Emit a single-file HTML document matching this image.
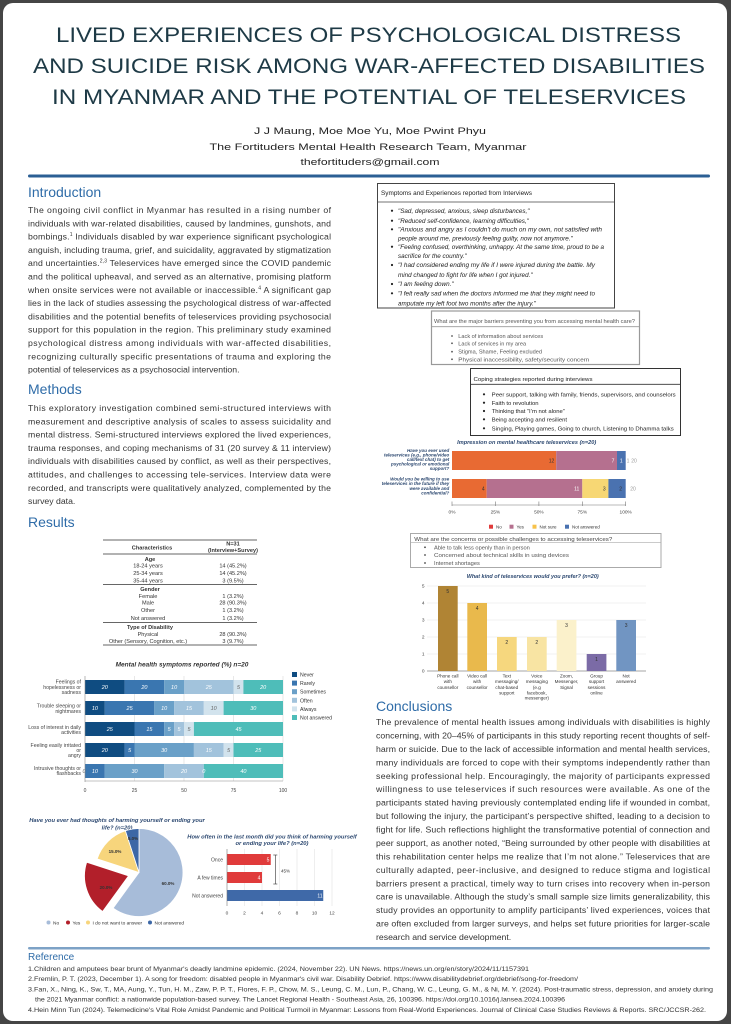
<!DOCTYPE html>
<html><head><meta charset="utf-8"><style>
html,body{margin:0;padding:0;background:#454545;}
svg{display:block;font-family:"Liberation Sans",Arial,sans-serif;}
</style></head><body>
<svg width="731" height="1024" viewBox="0 0 731 1024" xmlns="http://www.w3.org/2000/svg">
<rect width="731" height="1024" fill="#454545"/>
<rect x="3" y="3" width="724" height="1018" rx="10" fill="#fff"/>

<!-- Title -->
<g fill="#1e3a46" font-size="21" text-anchor="middle">
<text x="368.5" y="42" textLength="625" lengthAdjust="spacingAndGlyphs">LIVED EXPERIENCES OF PSYCHOLOGICAL DISTRESS</text>
<text x="369" y="73" textLength="672" lengthAdjust="spacingAndGlyphs">AND SUICIDE RISK AMONG WAR-AFFECTED DISABILITIES</text>
<text x="369" y="104" textLength="634" lengthAdjust="spacingAndGlyphs">IN MYANMAR AND THE POTENTIAL OF TELESERVICES</text>
</g>
<g fill="#222" font-size="9.5" text-anchor="middle">
<text x="370" y="134" textLength="232" lengthAdjust="spacingAndGlyphs">J J Maung, Moe Moe Yu, Moe Pwint Phyu</text>
<text x="368" y="150" textLength="317" lengthAdjust="spacingAndGlyphs">The Fortituders Mental Health Research Team, Myanmar</text>
<text x="370" y="165" textLength="139" lengthAdjust="spacingAndGlyphs">thefortituders@gmail.com</text>
</g>
<rect x="28" y="174.5" width="682" height="3" rx="1.5" fill="#2b5f94"/>

<!-- Section headings -->
<g fill="#2f6ca8" font-size="14">
<text x="28" y="197">Introduction</text>
<text x="28" y="394">Methods</text>
<text x="28" y="527">Results</text>
<text x="376" y="711">Conclusions</text>
</g>

<!-- Intro text -->
<g fill="#333" font-size="8.7">
<text x="28" y="213" textLength="303" lengthAdjust="spacing">The ongoing civil conflict in Myanmar has resulted in a rising number of</text>
<text x="28" y="226.3" textLength="303" lengthAdjust="spacing">individuals with war-related disabilities, caused by landmines, gunshots, and</text>
<text x="28" y="239.6" textLength="303" lengthAdjust="spacing">bombings.<tspan font-size="5" dy="-3.5">1</tspan><tspan dy="3.5"> Individuals disabled by war experience significant psychological</tspan></text>
<text x="28" y="252.9" textLength="303" lengthAdjust="spacing">anguish, including trauma, grief, and suicidality, aggravated by stigmatization</text>
<text x="28" y="266.2" textLength="303" lengthAdjust="spacing">and uncertainties.<tspan font-size="5" dy="-3.5">2,3</tspan><tspan dy="3.5"> Teleservices have emerged since the COVID pandemic</tspan></text>
<text x="28" y="279.5" textLength="303" lengthAdjust="spacing">and the political upheaval, and served as an alternative, promising platform</text>
<text x="28" y="292.8" textLength="303" lengthAdjust="spacing">when onsite services were not available or inaccessible.<tspan font-size="5" dy="-3.5">4</tspan><tspan dy="3.5"> A significant gap</tspan></text>
<text x="28" y="306.1" textLength="303" lengthAdjust="spacing">lies in the lack of studies assessing the psychological distress of war-affected</text>
<text x="28" y="319.4" textLength="303" lengthAdjust="spacing">disabilities and the potential benefits of teleservices providing psychosocial</text>
<text x="28" y="332.7" textLength="303" lengthAdjust="spacing">support for this population in the region. This preliminary study examined</text>
<text x="28" y="346" textLength="303" lengthAdjust="spacing">psychological distress among individuals with war-affected disabilities,</text>
<text x="28" y="359.3" textLength="303" lengthAdjust="spacing">recognizing culturally specific presentations of trauma and exploring the</text>
<text x="28" y="372.6">potential of teleservices as a psychosocial intervention.</text>
</g>

<!-- Methods text -->
<g fill="#333" font-size="8.7">
<text x="28" y="411" textLength="303" lengthAdjust="spacing">This exploratory investigation combined semi-structured interviews with</text>
<text x="28" y="424.3" textLength="303" lengthAdjust="spacing">measurement and descriptive analysis of scales to assess suicidality and</text>
<text x="28" y="437.6" textLength="303" lengthAdjust="spacing">mental distress. Semi-structured interviews explored the lived experiences,</text>
<text x="28" y="450.9" textLength="303" lengthAdjust="spacing">trauma responses, and coping mechanisms of 31 (20 survey &amp; 11 interview)</text>
<text x="28" y="464.2" textLength="303" lengthAdjust="spacing">individuals with disabilities caused by conflict, as well as their perspectives,</text>
<text x="28" y="477.5" textLength="303" lengthAdjust="spacing">attitudes, and challenges to accessing tele-services. Interview data were</text>
<text x="28" y="490.8" textLength="303" lengthAdjust="spacing">recorded, and transcripts were qualitatively analyzed, complemented by the</text>
<text x="28" y="504.1">survey data.</text>
</g>

<!-- Conclusions text -->
<g fill="#333" font-size="8.7">
<text x="376" y="725" textLength="334" lengthAdjust="spacing">The prevalence of mental health issues among individuals with disabilities is highly</text>
<text x="376" y="738.4" textLength="334" lengthAdjust="spacing">concerning, with 20–45% of participants in this study reporting recent thoughts of self-</text>
<text x="376" y="751.9" textLength="334" lengthAdjust="spacing">harm or suicide. Due to the lack of accessible information and mental health services,</text>
<text x="376" y="765.3" textLength="334" lengthAdjust="spacing">many individuals are forced to cope with their symptoms independently rather than</text>
<text x="376" y="778.8" textLength="334" lengthAdjust="spacing">seeking professional help. Encouragingly, the majority of participants expressed</text>
<text x="376" y="792.2" textLength="334" lengthAdjust="spacing">willingness to use teleservices if such resources were available. As one of the</text>
<text x="376" y="805.6" textLength="334" lengthAdjust="spacing">participants stated having previously contemplated ending life if wounded in combat,</text>
<text x="376" y="819.1" textLength="334" lengthAdjust="spacing">but following the injury, the participant’s perspective shifted, leading to a decision to</text>
<text x="376" y="832.5" textLength="334" lengthAdjust="spacing">fight for life. Such reflections highlight the transformative potential of connection and</text>
<text x="376" y="846" textLength="334" lengthAdjust="spacing">peer support, as another noted, “Being surrounded by other people with disabilities at</text>
<text x="376" y="859.4" textLength="334" lengthAdjust="spacing">this rehabilitation center helps me realize that I’m not alone.” Teleservices that are</text>
<text x="376" y="872.8" textLength="334" lengthAdjust="spacing">culturally adapted, peer-inclusive, and designed to reduce stigma and logistical</text>
<text x="376" y="886.3" textLength="334" lengthAdjust="spacing">barriers present a practical, timely way to turn crises into recovery when in-person</text>
<text x="376" y="899.7" textLength="334" lengthAdjust="spacing">care is unavailable. Although the study’s small sample size limits generalizability, this</text>
<text x="376" y="913.2" textLength="334" lengthAdjust="spacing">study provides an opportunity to amplify participants’ lived experiences, voices that</text>
<text x="376" y="926.6" textLength="334" lengthAdjust="spacing">are often excluded from larger surveys, and helps set future priorities for larger-scale</text>
<text x="376" y="940">research and service development.</text>
</g>

<!-- Demographics table -->
<g stroke="#333" stroke-width="0.7">
<line x1="103" y1="540" x2="257" y2="540"/>
<line x1="103" y1="554" x2="257" y2="554"/>
<line x1="103" y1="584.5" x2="257" y2="584.5"/>
<line x1="103" y1="622.5" x2="257" y2="622.5"/>
<line x1="103" y1="645" x2="257" y2="645"/>
</g>
<g font-size="5.6" fill="#333" text-anchor="middle">
<text x="152" y="549.5" font-weight="bold">Characteristics</text>
<text x="233" y="545.5" font-weight="bold">N=31</text>
<text x="233" y="552" font-weight="bold">(Interview+Survey)</text>
<text x="150" y="561" font-weight="bold">Age</text>
<text x="148" y="567.5">18-24 years</text><text x="233" y="567.5">14 (45.2%)</text>
<text x="148" y="575">25-34 years</text><text x="233" y="575">14 (45.2%)</text>
<text x="148" y="582.5">35-44 years</text><text x="233" y="582.5">3 (9.5%)</text>
<text x="150" y="591" font-weight="bold">Gender</text>
<text x="148" y="598">Female</text><text x="233" y="598">1 (3.2%)</text>
<text x="148" y="604.5">Male</text><text x="233" y="604.5">28 (90.3%)</text>
<text x="148" y="612">Other</text><text x="233" y="612">1 (3.2%)</text>
<text x="148" y="620">Not answered</text><text x="233" y="620">1 (3.2%)</text>
<text x="150" y="629" font-weight="bold">Type of Disability</text>
<text x="148" y="636">Physical</text><text x="233" y="636">28 (90.3%)</text>
<text x="148" y="643">Other (Sensory, Cognition, etc.)</text><text x="233" y="643">3 (9.7%)</text>
</g>

<!-- Mental health symptoms chart -->
<text x="182" y="666.5" font-size="6.5" font-weight="bold" font-style="italic" fill="#333" text-anchor="middle">Mental health symptoms reported (%) n=20</text>
<g stroke="#d8d8d8" stroke-width="0.6">
<line x1="134.5" y1="676" x2="134.5" y2="781"/>
<line x1="184" y1="676" x2="184" y2="781"/>
<line x1="233.5" y1="676" x2="233.5" y2="781"/>
<line x1="283" y1="676" x2="283" y2="781"/>
</g>
<g>
<rect x="85" y="680" width="39.6" height="14" fill="#0f4c81"/>
<rect x="124.6" y="680" width="39.6" height="14" fill="#3a76b0"/>
<rect x="164.2" y="680" width="19.8" height="14" fill="#6aa0c8"/>
<rect x="184" y="680" width="49.5" height="14" fill="#a2c3dc"/>
<rect x="233.5" y="680" width="9.9" height="14" fill="#d2e3ed"/>
<rect x="243.4" y="680" width="39.6" height="14" fill="#4ebdb9"/>
<rect x="85" y="701" width="19.8" height="14" fill="#0f4c81"/>
<rect x="104.8" y="701" width="49.5" height="14" fill="#3a76b0"/>
<rect x="154.3" y="701" width="19.8" height="14" fill="#6aa0c8"/>
<rect x="174.1" y="701" width="29.7" height="14" fill="#a2c3dc"/>
<rect x="203.8" y="701" width="19.8" height="14" fill="#d2e3ed"/>
<rect x="223.6" y="701" width="59.4" height="14" fill="#4ebdb9"/>
<rect x="85" y="722" width="49.5" height="14" fill="#0f4c81"/>
<rect x="134.5" y="722" width="29.7" height="14" fill="#3a76b0"/>
<rect x="164.2" y="722" width="9.9" height="14" fill="#6aa0c8"/>
<rect x="174.1" y="722" width="9.9" height="14" fill="#a2c3dc"/>
<rect x="184" y="722" width="9.9" height="14" fill="#d2e3ed"/>
<rect x="193.9" y="722" width="89.1" height="14" fill="#4ebdb9"/>
<rect x="85" y="743" width="39.6" height="14" fill="#0f4c81"/>
<rect x="124.6" y="743" width="9.9" height="14" fill="#3a76b0"/>
<rect x="134.5" y="743" width="59.4" height="14" fill="#6aa0c8"/>
<rect x="193.9" y="743" width="29.7" height="14" fill="#a2c3dc"/>
<rect x="223.6" y="743" width="9.9" height="14" fill="#d2e3ed"/>
<rect x="233.5" y="743" width="49.5" height="14" fill="#4ebdb9"/>
<rect x="85" y="764" width="19.8" height="14" fill="#3a76b0"/>
<rect x="104.8" y="764" width="59.4" height="14" fill="#6aa0c8"/>
<rect x="164.2" y="764" width="39.6" height="14" fill="#a2c3dc"/>
<rect x="203.8" y="764" width="79.2" height="14" fill="#4ebdb9"/>
</g>
<g font-size="5.5" font-style="italic" fill="#fff" text-anchor="middle">
<text x="104.8" y="689">20</text><text x="144.4" y="689">20</text><text x="174.1" y="689">10</text><text x="208.8" y="689">25</text><text x="238.5" y="689" fill="#666">5</text><text x="263.2" y="689">20</text>
<text x="94.9" y="710">10</text><text x="129.6" y="710">25</text><text x="164.2" y="710">10</text><text x="189" y="710">15</text><text x="213.7" y="710" fill="#666">10</text><text x="253.3" y="710">30</text>
<text x="109.8" y="731">25</text><text x="149.4" y="731">15</text><text x="169.2" y="731">5</text><text x="179" y="731">5</text><text x="189" y="731" fill="#666">5</text><text x="238.5" y="731">45</text>
<text x="104.8" y="752">20</text><text x="129.6" y="752">5</text><text x="164.2" y="752">30</text><text x="208.8" y="752">15</text><text x="228.6" y="752" fill="#666">5</text><text x="258.3" y="752">25</text>
<text x="84" y="773" fill="#666">0</text><text x="94.9" y="773">10</text><text x="134.5" y="773">30</text><text x="184" y="773">20</text><text x="203.8" y="773">0</text><text x="243.4" y="773">40</text>
</g>
<g font-size="5.2" fill="#444" text-anchor="end">
<text x="81" y="683.5">Feelings of</text><text x="81" y="689">hopelessness or</text><text x="81" y="694">sadness</text>
<text x="81" y="707.5">Trouble sleeping or</text><text x="81" y="712.8">nightmares</text>
<text x="81" y="729">Loss of interest in daily</text><text x="81" y="734">activities</text>
<text x="81" y="746.8">Feeling easily irritated</text><text x="81" y="752">or</text><text x="81" y="757">angry</text>
<text x="81" y="770">Intrusive thoughts or</text><text x="81" y="775">flashbacks</text>
</g>
<line x1="85" y1="676" x2="85" y2="782" stroke="#888" stroke-width="0.6"/>
<line x1="85" y1="781" x2="283" y2="781" stroke="#888" stroke-width="0.6"/>
<g font-size="5" fill="#444" text-anchor="middle">
<text x="85" y="792">0</text><text x="134.5" y="792">25</text><text x="184" y="792">50</text><text x="233.5" y="792">75</text><text x="283" y="792">100</text>
</g>
<g font-size="5.2" fill="#333">
<rect x="292" y="672" width="5" height="5" fill="#0f4c81"/><text x="300" y="676.5">Never</text>
<rect x="292" y="680.6" width="5" height="5" fill="#3a76b0"/><text x="300" y="685.1">Rarely</text>
<rect x="292" y="689.2" width="5" height="5" fill="#6aa0c8"/><text x="300" y="693.7">Sometimes</text>
<rect x="292" y="697.8" width="5" height="5" fill="#a2c3dc"/><text x="300" y="702.3">Often</text>
<rect x="292" y="706.4" width="5" height="5" fill="#d2e3ed"/><text x="300" y="710.9">Always</text>
<rect x="292" y="715" width="5" height="5" fill="#4ebdb9"/><text x="300" y="719.5">Not answered</text>
</g>

<!-- Pie chart -->
<g font-size="5.8" font-weight="bold" font-style="italic" fill="#2c4870" text-anchor="middle">
<text x="117" y="822">Have you ever had thoughts of harming yourself or ending your</text>
<text x="117" y="829.5">life? (n=20)</text>
</g>
<g stroke="#fff" stroke-width="0.8">
<path d="M139,872.5 L139,828.5 A44,44 0 1 1 113.1,908.1 Z" fill="#a7bcd9"/>
<path d="M128.5,875.9 L102.6,911.5 A44,44 0 0 1 86.7,862.3 Z" fill="#b21f2a"/>
<path d="M139,872.5 L97.2,858.9 A44,44 0 0 1 125.4,830.7 Z" fill="#f7d57c"/>
<path d="M139,872.5 L125.4,830.7 A44,44 0 0 1 139,828.5 Z" fill="#3c67a6"/>
</g>
<g font-size="4.5" font-weight="bold" fill="#333" text-anchor="middle">
<text x="168" y="885">60.0%</text>
<text x="106" y="889">20.0%</text>
<text x="115" y="853">15.0%</text>
<text x="133" y="840">5.0%</text>
</g>
<g font-size="4.8" fill="#333">
<circle cx="48.5" cy="922.5" r="2" fill="#a7bcd9"/><text x="53" y="924.3">No</text>
<circle cx="68" cy="922.5" r="2" fill="#b21f2a"/><text x="72.5" y="924.3">Yes</text>
<circle cx="88" cy="922.5" r="2" fill="#f7d57c"/><text x="92.5" y="924.3">I do not want to answer</text>
<circle cx="150" cy="922.5" r="2" fill="#3c67a6"/><text x="154.5" y="924.3">Not answered</text>
</g>

<!-- Harming frequency bar chart -->
<g font-size="5.8" font-weight="bold" font-style="italic" fill="#2c4870" text-anchor="middle">
<text x="272" y="838.5">How often in the last month did you think of harming yourself</text>
<text x="272" y="845">or ending your life? (n=20)</text>
</g>
<g stroke="#e2e2e2" stroke-width="0.6">
<line x1="244.5" y1="849" x2="244.5" y2="906"/><line x1="262" y1="849" x2="262" y2="906"/>
<line x1="279.5" y1="849" x2="279.5" y2="906"/><line x1="297" y1="849" x2="297" y2="906"/>
<line x1="314.5" y1="849" x2="314.5" y2="906"/><line x1="332" y1="849" x2="332" y2="906"/>
</g>
<rect x="227" y="854" width="43.75" height="11" fill="#e03b3b"/>
<rect x="227" y="872" width="35" height="11" fill="#e03b3b"/>
<rect x="227" y="890" width="96.25" height="11" fill="#3f69a8"/>
<line x1="227" y1="849" x2="227" y2="906" stroke="#777" stroke-width="0.6"/>
<g font-size="5" fill="#fff" text-anchor="middle">
<text x="268" y="861.5">5</text><text x="259" y="879.5">4</text><text x="320" y="897.5">11</text>
</g>
<g font-size="5" fill="#444" text-anchor="end">
<text x="223" y="861.3">Once</text><text x="223" y="879.3">A few times</text><text x="223" y="897.3">Not answered</text>
</g>
<g stroke="#333" stroke-width="0.6">
<line x1="275.3" y1="855" x2="275.3" y2="884"/><line x1="273.3" y1="855" x2="277.3" y2="855"/><line x1="273.3" y1="884" x2="277.3" y2="884"/>
</g>
<text x="281" y="872.3" font-size="4.5" fill="#333">45%</text>
<g font-size="4.8" fill="#444" text-anchor="middle">
<text x="227" y="914.5">0</text><text x="244.5" y="914.5">2</text><text x="262" y="914.5">4</text><text x="279.5" y="914.5">6</text><text x="297" y="914.5">8</text><text x="314.5" y="914.5">10</text><text x="332" y="914.5">12</text>
</g>

<!-- Box 1 -->
<rect x="377.5" y="183.5" width="237" height="124.5" fill="#fff" stroke="#444" stroke-width="1"/>
<line x1="377.5" y1="202" x2="614.5" y2="202" stroke="#444" stroke-width="0.8"/>
<text x="381" y="195" font-size="6.5" fill="#222" textLength="151" lengthAdjust="spacingAndGlyphs">Symptoms and Experiences reported from Interviews</text>
<g fill="#222">
<circle cx="392" cy="210.7" r="1.1"/><circle cx="392" cy="220.7" r="1.1"/><circle cx="392" cy="229.3" r="1.1"/>
<circle cx="392" cy="246.7" r="1.1"/><circle cx="392" cy="265" r="1.1"/><circle cx="392" cy="284" r="1.1"/><circle cx="392" cy="293.3" r="1.1"/>
</g>
<g font-size="6.3" font-style="italic" fill="#222">
<text x="398" y="212.8">"Sad, depressed, anxious, sleep disturbances,"</text>
<text x="398" y="222.8">"Reduced self-confidence, learning difficulties,"</text>
<text x="398" y="231.4" textLength="204" lengthAdjust="spacingAndGlyphs">"Anxious and angry as I couldn't do much on my own, not satisfied with</text>
<text x="398" y="240.4">people around me, previously feeling guilty, now not anymore."</text>
<text x="398" y="248.8" textLength="206" lengthAdjust="spacingAndGlyphs">"Feeling confused, overthinking, unhappy. At the same time, proud to be a</text>
<text x="398" y="257.8">sacrifice for the country."</text>
<text x="398" y="267.1" textLength="197" lengthAdjust="spacingAndGlyphs">"I had considered ending my life if I were injured during the battle. My</text>
<text x="398" y="276.8">mind changed to fight for life when I got injured."</text>
<text x="398" y="286.1">"I am feeling down."</text>
<text x="398" y="295.4" textLength="197" lengthAdjust="spacingAndGlyphs">"I felt really sad when the doctors informed me that they might need to</text>
<text x="398" y="305.3">amputate my left foot two months after the injury."</text>
</g>

<!-- Box 2 -->
<rect x="431.5" y="311" width="208" height="53.5" fill="#fff" stroke="#999" stroke-width="1.2"/>
<line x1="431.5" y1="326.7" x2="639.5" y2="326.7" stroke="#999" stroke-width="0.8"/>
<text x="434" y="323" font-size="5.4" fill="#555" textLength="201" lengthAdjust="spacingAndGlyphs">What are the major barriers preventing you from accessing mental health care?</text>
<g fill="#555">
<circle cx="452" cy="336" r="0.9"/><circle cx="452" cy="343.3" r="0.9"/><circle cx="452" cy="351.7" r="0.9"/><circle cx="452" cy="359.3" r="0.9"/>
</g>
<g font-size="5.6" fill="#555">
<text x="458.3" y="338">Lack of information about services</text>
<text x="458.3" y="345.3">Lack of services in my area</text>
<text x="458.3" y="353.7">Stigma, Shame, Feeling excluded</text>
<text x="458.3" y="361.3" textLength="131" lengthAdjust="spacingAndGlyphs">Physical inaccessibility, safety/security concern</text>
</g>

<!-- Box 3 -->
<rect x="470.5" y="368.5" width="210" height="67" fill="#fff" stroke="#333" stroke-width="1"/>
<line x1="470.5" y1="384.3" x2="680.5" y2="384.3" stroke="#333" stroke-width="0.8"/>
<text x="473.5" y="381" font-size="5.9" fill="#222" textLength="119" lengthAdjust="spacingAndGlyphs">Coping strategies reported during interviews</text>
<g fill="#222">
<circle cx="484" cy="394.3" r="1.1"/><circle cx="484" cy="402.7" r="1.1"/><circle cx="484" cy="411" r="1.1"/><circle cx="484" cy="419.3" r="1.1"/><circle cx="484" cy="428.3" r="1.1"/>
</g>
<g font-size="5.9" fill="#222">
<text x="491.7" y="396.4" textLength="184" lengthAdjust="spacingAndGlyphs">Peer support, talking with family, friends, supervisors, and counselors</text>
<text x="491.7" y="404.8">Faith to revolution</text>
<text x="491.7" y="413.1">Thinking that “I’m not alone”</text>
<text x="491.7" y="421.4">Being accepting and resilient</text>
<text x="491.7" y="430.4" textLength="182" lengthAdjust="spacingAndGlyphs">Singing, Playing games, Going to church, Listening to Dhamma talks</text>
</g>

<!-- Impression chart -->
<text x="526.7" y="444" font-size="5.3" font-weight="bold" font-style="italic" fill="#2c4870" text-anchor="middle" textLength="139" lengthAdjust="spacingAndGlyphs">Impression on mental healthcare teleservices (n=20)</text>
<g font-size="4.5" font-weight="bold" font-style="italic" fill="#2c4870" text-anchor="end">
<text x="449.3" y="451.8">Have you ever used</text>
<text x="449.3" y="456.5">teleservices (e.g., phone/video</text>
<text x="449.3" y="460.8">call/text chat) to get</text>
<text x="449.3" y="465.5">psychological or emotional</text>
<text x="449.3" y="469.8">support?</text>
<text x="449.3" y="480.5">Would you be willing to use</text>
<text x="449.3" y="485.2">teleservices in the future if they</text>
<text x="449.3" y="489.8">were available and</text>
<text x="449.3" y="494.5">confidential?</text>
</g>
<rect x="452" y="451" width="104.2" height="19" fill="#e86a33"/>
<rect x="556.2" y="451" width="60.8" height="19" fill="#b5708f"/>
<rect x="617" y="451" width="8.7" height="19" fill="#4a72b0"/>
<rect x="452" y="479" width="34.7" height="19" fill="#e86a33"/>
<rect x="486.7" y="479" width="95.6" height="19" fill="#b5708f"/>
<rect x="582.3" y="479" width="26.1" height="19" fill="#f7d774"/>
<rect x="608.4" y="479" width="17.3" height="19" fill="#4a72b0"/>
<g font-size="5" text-anchor="middle">
<text x="551.5" y="462.5" fill="#333">12</text>
<text x="613" y="462.5" fill="#fff">7</text>
<text x="621.3" y="462.5" fill="#fff">1</text>
<text x="628" y="462.5" fill="#999">1</text>
<text x="634" y="462.5" fill="#999">20</text>
<text x="483.3" y="490.3" fill="#333">4</text>
<text x="576.7" y="490.3" fill="#fff">11</text>
<text x="604.3" y="490.3" fill="#333">3</text>
<text x="620.7" y="490.3" fill="#333">2</text>
<text x="633" y="490.3" fill="#999">20</text>
</g>
<g stroke="#777" stroke-width="0.6">
<line x1="452" y1="505" x2="625.7" y2="505"/>
<line x1="452" y1="501.5" x2="452" y2="506"/><line x1="495.4" y1="501.5" x2="495.4" y2="506"/>
<line x1="538.9" y1="501.5" x2="538.9" y2="506"/><line x1="582.3" y1="501.5" x2="582.3" y2="506"/>
<line x1="625.7" y1="501.5" x2="625.7" y2="506"/>
</g>
<g font-size="4.8" fill="#444" text-anchor="middle">
<text x="452" y="513.5">0%</text><text x="495.4" y="513.5">25%</text><text x="538.9" y="513.5">50%</text><text x="582.3" y="513.5">75%</text><text x="625.7" y="513.5">100%</text>
</g>
<g font-size="4.5" fill="#333">
<rect x="489" y="524.7" width="4" height="4" fill="#e03b3b"/><text x="496" y="528.4">No</text>
<rect x="509.5" y="524.7" width="4" height="4" fill="#b5708f"/><text x="516.5" y="528.4">Yes</text>
<rect x="532.5" y="524.7" width="4" height="4" fill="#f7c24a"/><text x="539.5" y="528.4">Not sure</text>
<rect x="565" y="524.7" width="4" height="4" fill="#4a72b0"/><text x="572" y="528.4">Not answered</text>
</g>

<!-- Box 4 -->
<rect x="410.5" y="533.5" width="250.5" height="34" fill="#fff" stroke="#aaa" stroke-width="1"/>
<line x1="410.5" y1="542.3" x2="661" y2="542.3" stroke="#aaa" stroke-width="0.7"/>
<text x="414.3" y="541" font-size="5.9" fill="#444" textLength="198" lengthAdjust="spacingAndGlyphs">What are the concerns or possible challenges to accessing teleservices?</text>
<g fill="#444">
<circle cx="425" cy="547.3" r="0.9"/><circle cx="425" cy="555" r="0.9"/><circle cx="425" cy="563" r="0.9"/>
</g>
<g font-size="5.7" fill="#555">
<text x="434" y="549.3">Able to talk less openly than in person</text>
<text x="434" y="557" textLength="135" lengthAdjust="spacingAndGlyphs">Concerned about technical skills in using devices</text>
<text x="434" y="565">Internet shortages</text>
</g>

<!-- Teleservice preference chart -->
<text x="532.7" y="578" font-size="5.5" font-weight="bold" font-style="italic" fill="#2c4870" text-anchor="middle" textLength="132" lengthAdjust="spacingAndGlyphs">What kind of teleservices would you prefer? (n=20)</text>
<g stroke="#e6e6e6" stroke-width="0.6">
<line x1="427" y1="586" x2="646" y2="586"/><line x1="427" y1="603" x2="646" y2="603"/>
<line x1="427" y1="620" x2="646" y2="620"/><line x1="427" y1="637" x2="646" y2="637"/>
<line x1="427" y1="654" x2="646" y2="654"/>
</g>
<line x1="427" y1="671" x2="646" y2="671" stroke="#888" stroke-width="0.7"/>
<g font-size="4.8" fill="#444" text-anchor="end">
<text x="424.5" y="587.7">5</text><text x="424.5" y="604.7">4</text><text x="424.5" y="621.7">3</text><text x="424.5" y="638.7">2</text><text x="424.5" y="655.7">1</text><text x="424.5" y="672.7">0</text>
</g>
<rect x="438" y="586" width="19.7" height="85" fill="#b08434"/>
<rect x="467.3" y="603" width="19.7" height="68" fill="#e9b94c"/>
<rect x="497" y="637" width="19.7" height="34" fill="#f6d77e"/>
<rect x="527" y="637" width="19.7" height="34" fill="#f8e4a3"/>
<rect x="556.7" y="620" width="19.7" height="51" fill="#fbf1cb"/>
<rect x="586.7" y="654" width="19.7" height="17" fill="#7b6ba6"/>
<rect x="616.3" y="620" width="19.7" height="51" fill="#7195c2"/>
<g font-size="5" fill="#333" text-anchor="middle">
<text x="447.8" y="593">5</text><text x="477.1" y="610">4</text><text x="506.8" y="644">2</text><text x="536.8" y="644">2</text><text x="566.5" y="627">3</text><text x="596.5" y="661">1</text><text x="626.1" y="627">3</text>
</g>
<g font-size="4.6" fill="#333" text-anchor="middle">
<text x="447.8" y="677.6">Phone call</text><text x="447.8" y="683.2">with</text><text x="447.8" y="688.8">counsellor</text>
<text x="477.1" y="677.6">Video call</text><text x="477.1" y="683.2">with</text><text x="477.1" y="688.8">counsellor</text>
<text x="506.8" y="677.6">Text</text><text x="506.8" y="683.2">messaging/</text><text x="506.8" y="688.8">chat-based</text><text x="506.8" y="694.3">support</text>
<text x="536.8" y="677.6">Voice</text><text x="536.8" y="683.2">messaging</text><text x="536.8" y="688.8">(e.g</text><text x="536.8" y="694.3">facebook,</text><text x="536.8" y="699.7">messenger)</text>
<text x="566.5" y="677.6">Zoom,</text><text x="566.5" y="683.2">Messenger,</text><text x="566.5" y="688.8">Signal</text>
<text x="596.5" y="677.6">Group</text><text x="596.5" y="683.2">support</text><text x="596.5" y="688.8">sessions</text><text x="596.5" y="694.3">online</text>
<text x="626.1" y="677.6">Not</text><text x="626.1" y="683.2">answered</text>
</g>

<!-- References -->
<rect x="28" y="947" width="682" height="2.5" rx="1.2" fill="#7da2c6"/>
<text x="28" y="960" font-size="10" fill="#2f6ca8">Reference</text>
<g font-size="6.5" fill="#333">
<text x="28" y="971" textLength="501" lengthAdjust="spacingAndGlyphs">1.Children and amputees bear brunt of Myanmar's deadly landmine epidemic. (2024, November 22). UN News. https://news.un.org/en/story/2024/11/1157391</text>
<text x="28" y="981" textLength="550" lengthAdjust="spacingAndGlyphs">2.Fremlin, P. T. (2023, December 1). A song for freedom: disabled people in Myanmar's civil war. Disability Debrief. https://www.disabilitydebrief.org/debrief/song-for-freedom/</text>
<text x="28" y="991.5" textLength="685" lengthAdjust="spacingAndGlyphs">3.Fan, X., Ning, K., Sw, T., MA, Aung, Y., Tun, H. M., Zaw, P. P. T., Flores, F. P., Chow, M. S., Leung, C. M., Lun, P., Chang, W. C., Leung, G. M., &amp; Ni, M. Y. (2024). Post-traumatic stress, depression, and anxiety during</text>
<text x="35" y="1001.5" textLength="530" lengthAdjust="spacingAndGlyphs">the 2021 Myanmar conflict: a nationwide population-based survey. The Lancet Regional Health - Southeast Asia, 26, 100396. https://doi.org/10.1016/j.lansea.2024.100396</text>
<text x="28" y="1012" textLength="678" lengthAdjust="spacingAndGlyphs">4.Hein Minn Tun (2024). Telemedicine's Vital Role Amidst Pandemic and Political Turmoil in Myanmar: Lessons from Real-World Experiences. Journal of Clinical Case Studies Reviews &amp; Reports. SRC/JCCSR-262.</text>
</g>
</svg>
</body></html>
